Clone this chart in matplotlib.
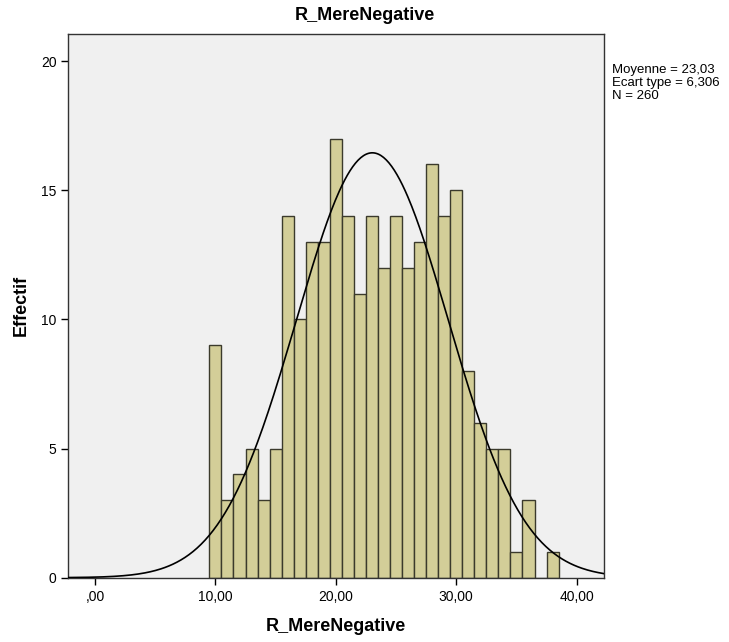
import numpy as np
import matplotlib
matplotlib.use("Agg")
import matplotlib.pyplot as plt

plt.rcParams['font.family'] = ['Liberation Sans Narrow', 'Liberation Sans', 'DejaVu Sans']

# bin centres (width 1) and counts
bin_centers = list(range(10, 39))
counts = [9, 3, 4, 5, 3, 5, 14, 10, 13, 13, 17, 14, 11, 14, 12, 14,
          12, 13, 16, 14, 15, 8, 6, 5, 5, 1, 3, 0, 1]

mean_val = 23.03
std_val = 6.306
n_val = 260

x_ticks = [0, 10, 20, 30, 40]
x_tick_labels = [",00", "10,00", "20,00", "30,00", "40,00"]
y_ticks = [0, 5, 10, 15, 20]

fig = plt.figure(figsize=(7.29, 6.42), dpi=100)
ax = fig.add_axes([0.0937, 0.1002, 0.828 - 0.0937, 0.9475 - 0.1002])
ax.set_facecolor("#f0f0f0")

ax.bar(bin_centers, counts, width=1.0, color="#d3ce98", edgecolor="#3b3a2c",
       linewidth=1.0, zorder=2)

# normal curve scaled to counts
xmin, xmax = -2.22, 42.24
xs = np.linspace(xmin, xmax, 400)
ys = n_val * 1.0 / (std_val * np.sqrt(2 * np.pi)) * np.exp(-0.5 * ((xs - mean_val) / std_val) ** 2)
ax.plot(xs, ys, color="black", linewidth=1.2, zorder=3)

ax.set_xlim(xmin, xmax)
ax.set_ylim(0, 21.06)
ax.set_xticks(x_ticks)
ax.set_xticklabels(x_tick_labels)
ax.set_yticks(y_ticks)
ax.tick_params(axis='both', direction='out', length=5, width=1, labelsize=10,
               colors="black")
ax.tick_params(axis='x', pad=4)

for s in ax.spines.values():
    s.set_color("#333333")
    s.set_linewidth(1.0)

ax.set_xlabel("R_MereNegative", fontsize=13, fontweight='bold', labelpad=10)
ax.set_ylabel("Effectif", fontsize=13, fontweight='bold', labelpad=8)
fig.text(0.5, 1 - 15 / 642, "R_MereNegative", ha='center', va='center',
         fontsize=13, fontweight='bold')

fig.text(612 / 729, 1 - 64 / 642,
         "Moyenne = 23,03\nEcart type = 6,306\nN = 260",
         ha='left', va='top', fontsize=9.5, linespacing=1.1,
         family=['Liberation Sans', 'DejaVu Sans'])

fig.savefig("out.png", dpi=100)
